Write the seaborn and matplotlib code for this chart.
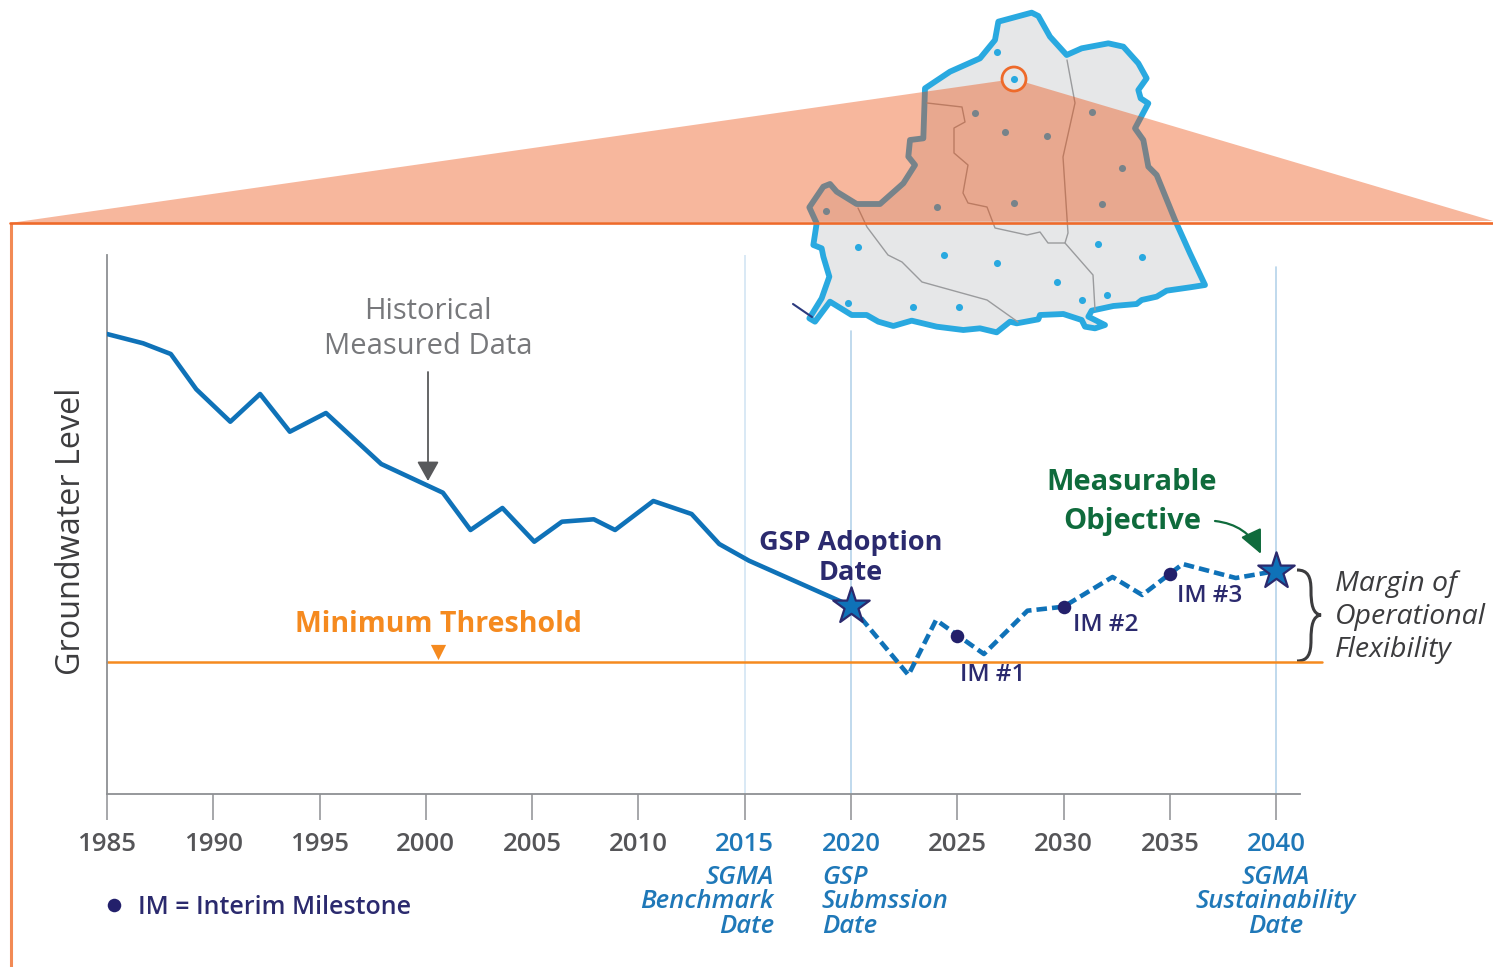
import numpy as np
import pandas as pd
import seaborn as sns
import matplotlib.pyplot as plt
from matplotlib.patches import Polygon, PathPatch, Circle
from matplotlib.path import Path

# ===== data =====
hist_years = [1985.0, 1986.7, 1988.0, 1989.2, 1990.8, 1992.2, 1993.6, 1995.3, 1997.9, 2000.8, 2002.1,
              2003.6, 2005.1, 2006.4, 2007.9, 2008.9, 2010.7, 2012.5, 2013.8, 2015.2, 2020.0]
hist_levels = [460, 450.7, 440, 404.7, 372.3, 400, 362.3, 381, 330, 301.3, 264,
               286, 252.3, 272.3, 274.7, 264, 293, 280, 250, 233.3, 188]
proj_years = [2020.0, 2022.7, 2024.0, 2026.25, 2028.3, 2030.0, 2032.3, 2033.7, 2035.6, 2038.1, 2040.0]
proj_levels = [188, 119, 174, 140, 183.3, 187.3, 217, 199, 230, 216, 223]
im_years = [2025, 2030, 2035]
im_levels = [158, 187.3, 220]
im_labels = ['IM #1', 'IM #2', 'IM #3']
star_years = [2020, 2040]
star_levels = [188, 223]
threshold = 132
tick_years = list(range(1985, 2045, 5))
blue_years = [2015, 2020, 2040]

# map outline, read in a 3x crop whose corner is at pixel (780, 0)
outline_cx = [435, 510, 600, 645, 655, 755, 775, 810, 860, 905, 985, 1030, 1075, 1100, 1075, 1082, 1105, 1065,
              1090, 1105, 1130, 1185, 1230, 1275, 1230, 1160, 1130, 1085, 1070, 1000, 935, 925, 975, 945, 915,
              905, 850, 780, 775, 710, 690, 650, 600, 550, 470, 395, 340, 295, 260, 215, 150, 135, 105, 88,
              125, 148, 130, 125, 100, 110, 88, 130, 150, 170, 230, 300, 370, 405, 385, 390, 430]
outline_cy = [265, 215, 175, 120, 65, 38, 48, 110, 165, 145, 130, 140, 190, 235, 270, 295, 310, 385,
              420, 500, 525, 660, 760, 855, 862, 872, 890, 900, 912, 918, 932, 950, 975, 985, 980,
              960, 942, 945, 958, 970, 965, 997, 985, 990, 980, 962, 978, 965, 945, 945, 905, 925, 965, 955,
              895, 830, 770, 745, 735, 670, 622, 560, 552, 575, 612, 612, 550, 495, 470, 420, 415]
outline_x = [780 + v / 3 for v in outline_cx]
outline_y = [v / 3 for v in outline_cy]
# sub-basin borders and wells, in picture pixels
border_a_x = [927, 962, 965, 954, 954, 968, 963, 968, 987, 995, 1027, 1040, 1048, 1065, 1068, 1063, 1075, 1067]
border_a_y = [103, 107, 122, 128, 153, 165, 193, 203, 207, 228, 235, 232, 243, 243, 233, 157, 103, 60]
border_b_x = [1065, 1093, 1095]
border_b_y = [243, 275, 310]
border_c_x = [858, 867, 888, 902, 922, 987, 1018]
border_c_y = [208, 227, 255, 262, 282, 300, 322]
well_x = [997, 1014, 975, 1005, 1047, 1092, 1122, 826, 937, 1014, 1102, 858, 944, 997, 1098, 1142, 1057, 1107,
          1082, 848, 913, 959]
well_y = [52, 79, 113, 132, 136, 112, 168, 211, 207, 203, 204, 247, 255, 263, 244, 257, 282, 295, 300, 303, 307, 307]

NAVY = '#2b2a6e'
BLUE = '#0f72b8'
LABEL_BLUE = '#1f78b8'
ORANGE = '#f58a1f'
GREY = '#58595b'
FONT = 'Open Sans'

sns.set_style('white')
plt.rcParams['font.family'] = [FONT, 'DejaVu Sans']

W, H = 1493, 967
fig = plt.figure(figsize=(W / 100, H / 100), dpi=100)

# full-figure layer for the map and the frame
bg = fig.add_axes([0, 0, 1, 1], zorder=0)
bg.set_xlim(0, W)
bg.set_ylim(H, 0)
bg.axis('off')

bg.add_patch(Polygon(np.column_stack([outline_x, outline_y]), closed=True, facecolor='#e6e7e8',
                     edgecolor='#29a9e0', linewidth=4.2, joinstyle='round', zorder=1))
bg.plot([793, 812], [304, 317], color='#2b3a7e', lw=1.5, zorder=1)
for bx, by in [(border_a_x, border_a_y), (border_b_x, border_b_y), (border_c_x, border_c_y)]:
    bg.plot(bx, by, color='#9a9b9d', lw=1.0, zorder=2)
sns.scatterplot(x=well_x, y=well_y, ax=bg, color='#29a9e0', s=26, linewidth=0, zorder=3)
bg.add_patch(Polygon([(10, 223), (1014, 79), (1493, 221)], closed=True, facecolor=(237 / 255, 75 / 255, 10 / 255),
                     alpha=0.4, edgecolor='none', zorder=4))
bg.add_patch(Circle((1014, 79), 12, facecolor='#e6e7e8', edgecolor='#ee6a2a', linewidth=2, zorder=5))
bg.scatter([1014], [79], color='#29a9e0', s=26, linewidth=0, zorder=6)
bg.plot([11, 11], [967, 223], color='#f28a55', lw=2.2, zorder=6, solid_capstyle='butt')
bg.plot([10, 1493], [223, 223], color='#ee6a2a', lw=1.9, zorder=6)
bg.set_xlim(0, W)
bg.set_ylim(H, 0)

# ===== chart =====
ax = fig.add_axes([107 / W, (H - 794) / H, (1300 - 107) / W, 539 / H], zorder=1)
ax.patch.set_alpha(0)
ax.set_xlim(1985, 2041.12)
ax.set_ylim(0, 539)

ax.axvline(2015, color='#d3e5f3', lw=1.2, zorder=1)
ax.axvline(2020, ymax=(794 - 331) / 539, color='#b5d3ea', lw=1.2, zorder=1)
ax.axvline(2040, ymax=(794 - 267) / 539, color='#b5d3ea', lw=1.2, zorder=1)

ax.plot([1985, 2042.15], [threshold, threshold], color=ORANGE, lw=1.8, clip_on=False, zorder=2)

hist = pd.DataFrame({'year': hist_years, 'level': hist_levels})
proj = pd.DataFrame({'year': proj_years, 'level': proj_levels})
sns.lineplot(data=hist, x='year', y='level', ax=ax, color=BLUE, lw=3.3, sort=False, estimator=None, zorder=3)
sns.lineplot(data=proj, x='year', y='level', ax=ax, color=BLUE, lw=3.3, sort=False, estimator=None, zorder=3,
             linestyle=(0, (2.3, 1.1)))
sns.scatterplot(x=im_years, y=im_levels, ax=ax, color='#23206b', s=95, linewidth=0, zorder=4)
sns.scatterplot(x=star_years, y=star_levels, ax=ax, color=BLUE, marker='*', s=760, edgecolor=NAVY,
                linewidth=1.6, zorder=5, clip_on=False)
ax.scatter([2000.55], [142], marker='v', color=ORANGE, s=120, linewidth=0, zorder=4)

for s in ['top', 'right']:
    ax.spines[s].set_visible(False)
for s in ['left', 'bottom']:
    ax.spines[s].set_color('#8e9093')
    ax.spines[s].set_linewidth(1.3)
ax.set_yticks([])
ax.set_xticks(tick_years)
ax.set_xticklabels(tick_years, fontsize=18.5, fontweight='semibold')
ax.tick_params(axis='x', direction='out', length=18.5, width=1.1, color='#8e9093', pad=9, bottom=True)
for year, lab in zip(tick_years, ax.get_xticklabels()):
    lab.set_color(LABEL_BLUE if year in blue_years else '#555558')
ax.set_xlabel('')
ax.set_ylabel('')


def note(x, y, s, **kw):
    ax.text(x, y, s, transform=bg.transData, clip_on=False, **kw)


note(71, 531, 'Groundwater Level', fontsize=23.3, color='#3c3c3e', rotation=90, ha='center', va='center')
note(428, 329, 'Historical\nMeasured Data', fontsize=21, color='#77787b', ha='center', va='center', linespacing=1.23)
note(438, 624, 'Minimum Threshold', fontsize=20.5, color=ORANGE, fontweight='bold', ha='center', va='center')
note(851, 558, 'GSP Adoption\nDate', fontsize=19.5, color=NAVY, fontweight='bold', ha='center', va='center',
     linespacing=1.15)
note(1132, 502, 'Measurable\nObjective', fontsize=21, color='#0f6b3c', fontweight='bold', ha='center', va='center',
     linespacing=1.5)
for lab, lx, ly in zip(im_labels, [993, 1106, 1210], [675, 625, 596]):
    note(lx, ly, lab, fontsize=17.5, color=NAVY, fontweight='semibold', ha='center', va='center')
note(1335, 617, 'Margin of\nOperational\nFlexibility', fontsize=20.5, color='#3c3c3e', style='italic', ha='left',
     va='center', linespacing=1.22)
note(774, 902, 'SGMA\nBenchmark\nDate', fontsize=18.5, color=LABEL_BLUE, style='italic', fontweight='semibold',
     ha='right', va='center', linespacing=0.95)
note(822, 902, 'GSP\nSubmssion\nDate', fontsize=18.5, color=LABEL_BLUE, style='italic', fontweight='semibold',
     ha='left', va='center', linespacing=0.95)
note(1276, 902, 'SGMA\nSustainability\nDate', fontsize=18.5, color=LABEL_BLUE, style='italic', fontweight='semibold',
     ha='center', va='center', linespacing=0.95)
note(138, 908, 'IM = Interim Milestone', fontsize=18, color=NAVY, fontweight='semibold', ha='left', va='center')
ax.scatter([114], [905], transform=bg.transData, color='#23206b', s=95, linewidth=0, clip_on=False, zorder=5)

# arrows
ax.annotate('', xy=(428, 481), xytext=(428, 372), xycoords=bg.transData, textcoords=bg.transData, annotation_clip=False,
            arrowprops=dict(arrowstyle='-|>,head_length=0.75,head_width=0.42', color=GREY, lw=1.3, shrinkA=0, shrinkB=0,
                            mutation_scale=16))
ax.annotate('', xy=(1261, 554), xytext=(1215, 521), xycoords=bg.transData, textcoords=bg.transData, annotation_clip=False,
            arrowprops=dict(arrowstyle='-|>,head_length=0.9,head_width=0.42', color='#0f6b3c', lw=1.6, shrinkA=0, shrinkB=0,
                            mutation_scale=16, connectionstyle='arc3,rad=-0.28'))

# brace between the objective and the threshold
brace = Path([(1297, 570), (1308, 570), (1311, 577), (1311, 590), (1311, 605), (1313, 614), (1321, 615),
              (1313, 616), (1311, 625), (1311, 640), (1311, 654), (1308, 661), (1297, 661)],
             [Path.MOVETO] + [Path.CURVE4] * 12)
bg.add_patch(PathPatch(brace, facecolor='none', edgecolor='#3c3c3e', lw=2.2, zorder=7))
bg.set_xlim(0, W)
bg.set_ylim(H, 0)

fig.savefig('out.png', dpi=100)
